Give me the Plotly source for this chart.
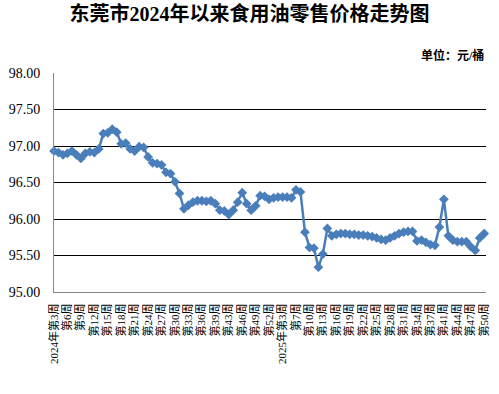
import plotly.graph_objects as go

weeks_2024 = list(range(3, 40)) + list(range(41, 53))
weeks_2025 = [1, 2, 3, 4] + list(range(6, 38)) + [38, 39] + list(range(41, 51))

categories = [f"2024年第{w}周" for w in weeks_2024] + [f"2025年第{w}周" for w in weeks_2025]

prices = [
    96.93, 96.91, 96.88, 96.90, 96.93, 96.88, 96.83, 96.90, 96.92, 96.91,
    96.96, 97.17, 97.18, 97.23, 97.19, 97.03, 97.04, 96.96, 96.93, 96.99,
    96.98, 96.85, 96.77, 96.76, 96.74, 96.64, 96.62, 96.51, 96.35, 96.14,
    96.19, 96.23, 96.25, 96.25, 96.24, 96.25, 96.21, 96.12, 96.11, 96.06,
    96.12, 96.23, 96.36, 96.21, 96.12, 96.18, 96.32, 96.31, 96.27, 96.29,
    96.30, 96.30, 96.30, 96.29, 96.40, 96.37, 95.82, 95.61, 95.60, 95.34,
    95.52, 95.87, 95.77, 95.79, 95.80, 95.80, 95.79, 95.79, 95.78, 95.78,
    95.77, 95.76, 95.74, 95.72, 95.71, 95.74, 95.77, 95.80, 95.82, 95.83,
    95.83, 95.70, 95.71, 95.68, 95.65, 95.64, 95.89, 96.27, 95.77, 95.71,
    95.69, 95.69, 95.69, 95.62, 95.57, 95.74, 95.80,
]

y_ticks = [95.0, 95.5, 96.0, 96.5, 97.0, 97.5, 98.0]
y_ticktext = ["95.00", "95.50", "96.00", "96.50", "97.00", "97.50", "98.00"]

tick_idx = list(range(0, len(categories), 3))
tick_vals = [categories[i] for i in tick_idx]
tick_text = []
for i in tick_idx:
    c = categories[i]
    if i == 0 or c.startswith("2025") and not categories[i - 3].startswith("2025"):
        tick_text.append(c)
    else:
        tick_text.append(c[5:])

serif = '"Liberation Serif", "Noto Sans CJK SC", serif'

fig = go.Figure()
fig.add_trace(go.Scatter(
    x=categories, y=prices, mode="lines+markers",
    line=dict(color="#4a7ebb", width=2.5),
    marker=dict(symbol="diamond", size=7.5, color="#4a7ebb"),
    cliponaxis=False,
    showlegend=False,
))

fig.update_layout(
    width=499, height=394,
    margin=dict(l=52, r=9, t=73, b=102),
    paper_bgcolor="white", plot_bgcolor="white",
    font=dict(family=serif, color="black"),
    title=dict(
        text="<b>东莞市2024年以来食用油零售价格走势图</b>",
        x=0.5, xanchor="center", y=0.965, yanchor="middle",
        font=dict(size=20, family=serif, color="black"),
    ),
    annotations=[dict(
        text="<b>单位：元/桶</b>", xref="paper", yref="paper",
        x=1.0, y=1.0, xanchor="right", yanchor="bottom", yshift=8,
        showarrow=False, font=dict(size=12, family=serif, color="black"),
    )],
    xaxis=dict(
        type="category", categoryorder="array", categoryarray=categories,
        range=[0, 96.4],
        tickmode="array", tickvals=tick_vals, ticktext=tick_text,
        tickangle=-90, tickfont=dict(size=11, family=serif, color="black"),
        showgrid=False, showline=True, linecolor="#888888", linewidth=1,
        ticks="", ticklabelstandoff=6,
    ),
    yaxis=dict(
        range=[95, 98], tickmode="array", tickvals=y_ticks, ticktext=y_ticktext,
        tickfont=dict(size=14, family=serif, color="black"),
        showgrid=True, gridcolor="black", gridwidth=1,
        showline=True, linecolor="#888888", linewidth=1,
        zeroline=False, ticks="", ticklabelstandoff=10,
    ),
)

fig.write_html("out.html")
